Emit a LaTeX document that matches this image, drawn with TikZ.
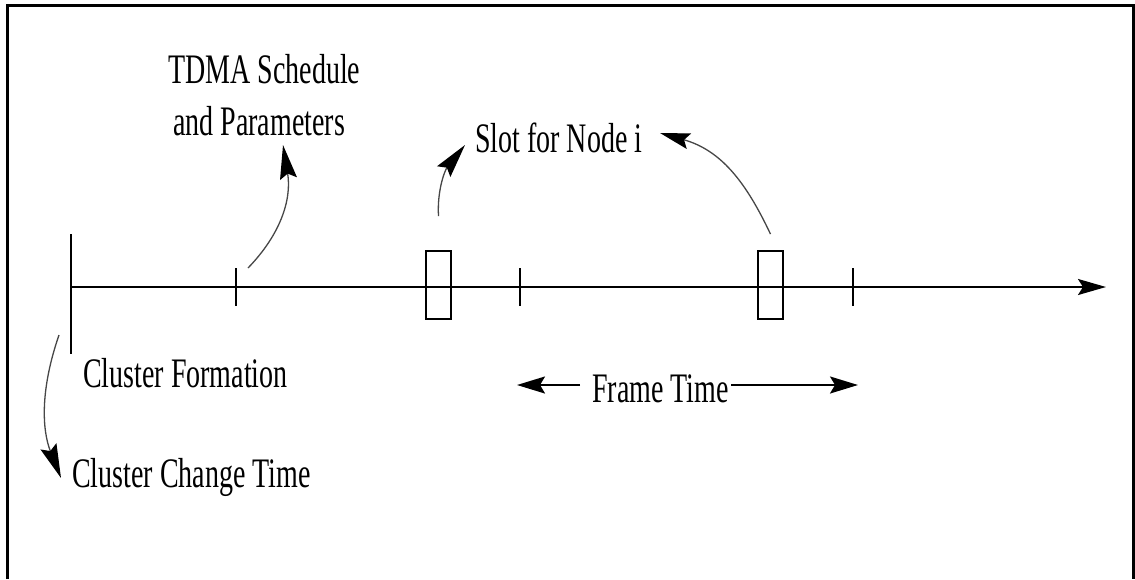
\documentclass[tikz,border=0pt]{standalone}
\usepackage{fontspec}
\setmainfont{Liberation Serif}
\usetikzlibrary{arrows.meta}

\tikzset{
  lbl/.style={anchor=base west, inner sep=0pt, font=\fontsize{28}{30}\selectfont},
  axisline/.style={line width=2pt, black},
  tick/.style={line width=1.8pt, black},
  slotbox/.style={draw, line width=1.8pt, minimum width=25pt, minimum height=68pt, inner sep=0pt, fill=none},
  pointer/.style={line width=1.3pt, black!72, -{Stealth[length=34pt, width=17pt, inset=5pt, black]}},
  span/.style={line width=2pt, black, -{Stealth[length=28pt, width=17pt, inset=5pt]}},
}
\newcommand{\tall}[1]{\scalebox{1}[1.5]{#1}}

\begin{document}
\begin{tikzpicture}[x=1pt, y=-1pt]
  \useasboundingbox (0,0) rectangle (1135,579);
  % outer frame (open at the bottom)
  \draw[line width=3pt] (7,579) -- (7,5) -- (1133,5) -- (1133,579);

  % time axis
  \coordinate (origin) at (71,287);
  \coordinate (axisend) at (1106,287);
  \draw[axisline, -{Stealth[length=28pt, width=16pt, inset=5pt]}] (origin) -- (axisend);
  \draw[tick] (71,234) -- (71,354);

  % frame boundaries
  \coordinate (tA) at (236,287);
  \coordinate (tB) at (520,287);
  \coordinate (tC) at (853,287);
  \foreach \t in {tA,tB,tC}
    \draw[tick] ([yshift=19pt]\t) -- ([yshift=-19pt]\t);

  % slots for node i
  \node[slotbox] (slotA) at (438.5,285) {};
  \node[slotbox] (slotB) at (770.5,285) {};

  % labels
  \node[lbl] (tdma1) at (168,83) {\tall{TDMA Schedule}};
  \node[lbl] (tdma2) at (173,135) {\tall{and Parameters}};
  \node[lbl] (slotlbl) at (475,152) {\tall{Slot for Node i}};
  \node[lbl] (formation) at (83,387) {\tall{Cluster Formation}};
  \node[lbl] (change) at (72,487) {\tall{Cluster Change Time}};
  \node[lbl] (frametime) at (592,402) {\tall{Frame Time}};

  % pointers
  \coordinate (tdmafoot) at (283,145);
  \draw[pointer] ([xshift=12pt, yshift=19pt]tA) .. controls (280,235) and (292,200) .. (tdmafoot);
  \coordinate (slotfootA) at (465,145);
  \coordinate (slotfootB) at (660,133);
  \draw[pointer] ([yshift=34pt]slotA.north) .. controls (437,190) and (445,170) .. (slotfootA);
  \draw[pointer, -{Stealth[length=30pt, width=16pt, inset=5pt, black]}] ([yshift=16pt]slotB.north) .. controls (745,180) and (720,150) .. (slotfootB);
  \coordinate (startfoot) at (59,335);
  \coordinate (changehead) at (61,478);
  \draw[pointer] (startfoot) .. controls (40,390) and (42,430) .. (changehead);

  % frame time span
  \draw[span] ([xshift=-12pt]frametime.west |- 0,385) -- (517,385);
  \draw[span] ([xshift=2pt]frametime.east |- 0,385) -- (858,385);
\end{tikzpicture}
\end{document}
